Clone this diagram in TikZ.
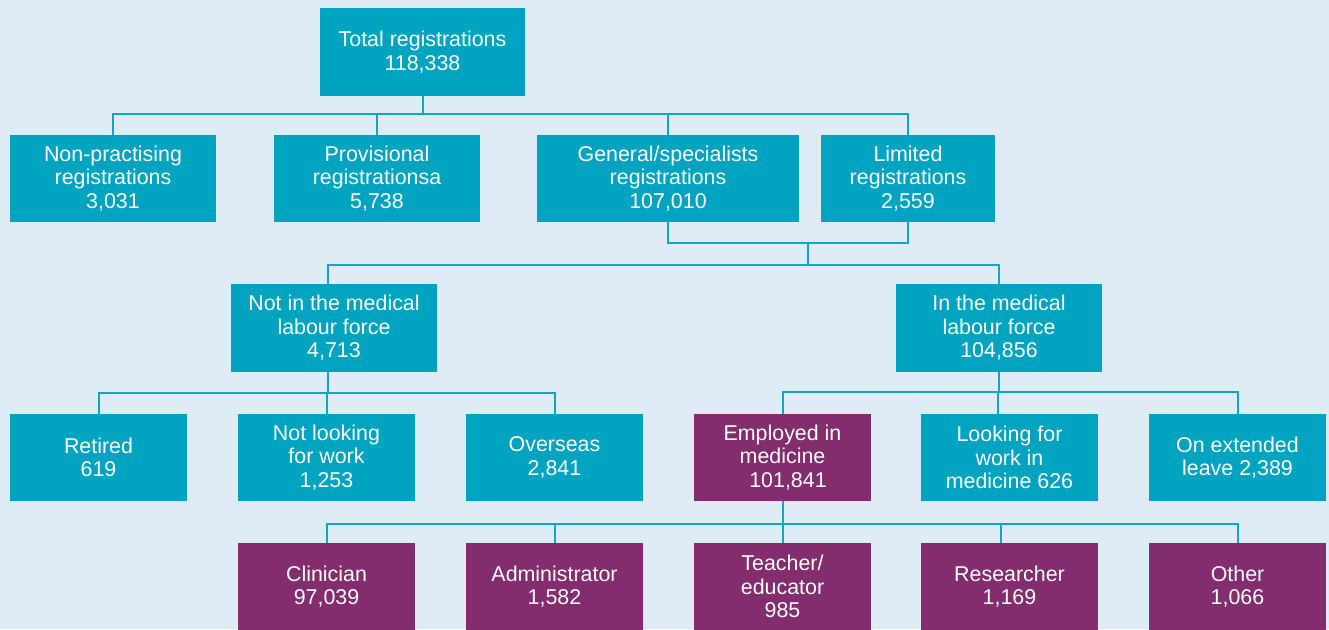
\documentclass[tikz,border=0pt]{standalone}
\usepackage{fontspec}
\setmainfont{Liberation Sans}
\definecolor{bgblue}{HTML}{DFEBF5}
\definecolor{tealbox}{HTML}{00A4C0}
\definecolor{tealline}{HTML}{12A6C2}
\definecolor{plumbox}{HTML}{832D6E}
\tikzset{
  box/.style={fill=tealbox, text=white, inner sep=0pt, align=center,
    font=\fontsize{21.4pt}{23.6pt}\selectfont},
  tealnode/.style={box},
  plumnode/.style={box, fill=plumbox},
  w206/.style={minimum width=206pt},
  w177/.style={minimum width=177pt},
  h87/.style={minimum height=87pt},
  link/.style={draw=tealline, line width=2pt},
}
\begin{document}
\begin{tikzpicture}[x=1pt, y=-1pt]
  \fill[bgblue] (0,0) rectangle (1329,629);
  \useasboundingbox (0,0) rectangle (1329,629);

  % top
  \node[tealnode, minimum width=205pt, minimum height=88pt] (total) at (422.5,52) {Total registrations\\118,338};

  % registration types
  \node[tealnode, w206, h87] (np)   at (113,178.5) {Non-practising\\registrations\\3,031};
  \node[tealnode, w206, h87] (prov) at (377,178.5) {Provisional\\registrationsa\\5,738};
  \node[tealnode, minimum width=262pt, h87] (gen) at (668,178.5) {General/specialists\\registrations\\107,010};
  \node[tealnode, minimum width=174pt, h87] (lim) at (908,178.5) {Limited\\registrations\\2,559};

  % labour force
  \node[tealnode, w206, minimum height=88pt] (notin) at (334,328) {Not in the medical\\labour force\\4,713};
  \node[tealnode, w206, minimum height=88pt] (inmed) at (999,328) {In the medical\\labour force\\104,856};

  % status
  \node[tealnode, w177, h87] (ret)     at (98.5,457.5)  {Retired\\619};
  \node[tealnode, w177, h87] (notlook) at (326.5,457.5) {Not looking\\for work\\1,253};
  \node[tealnode, w177, h87] (over)    at (554.5,457.5) {Overseas\\2,841};
  \node[plumnode, w177, h87] (emp)     at (782.5,457.5) {Employed in\\medicine\\\hspace*{11pt}101,841};
  \node[tealnode, w177, h87] (look)    at (1009.5,457.5) {Looking for\\work in\\medicine 626};
  \node[tealnode, w177, h87] (ext)     at (1237.5,457.5) {On extended\\leave 2,389};

  % roles
  \node[plumnode, w177, h87] (clin)  at (326.5,586.5) {Clinician\\97,039};
  \node[plumnode, w177, h87] (admin) at (554.5,586.5) {Administrator\\1,582};
  \node[plumnode, w177, h87] (teach) at (782.5,586.5) {Teacher/\\educator\\985};
  \node[plumnode, w177, h87] (res)   at (1009.5,586.5) {Researcher\\1,169};
  \node[plumnode, w177, h87] (other) at (1237.5,586.5) {Other\\1,066};

  % bus lines
  \coordinate (b1) at (422,114);
  \coordinate (j)  at (808,243);
  \coordinate (b2) at (808,265);
  \coordinate (b3) at (328,393);
  \coordinate (b4) at (998,392);
  \coordinate (b5) at (781,524);

  % total -> registration types
  \draw[link] (total.south) -- (total.south |- b1);
  \draw[link] (np.north) -- (np.north |- b1) -- (lim.north |- b1) -- (lim.north);
  \draw[link] (prov.north) -- (prov.north |- b1);
  \draw[link] (gen.north) -- (gen.north |- b1);

  % general + limited -> labour force
  \draw[link] (gen.south) -- (gen.south |- j) -- (lim.south |- j) -- (lim.south);
  \draw[link] (j) -- (b2);
  \draw[link] ([xshift=-6pt]notin.north) -- ([xshift=-6pt]notin.north |- b2)
              -- (inmed.north |- b2) -- (inmed.north);

  % not in labour force -> status
  \draw[link] ([xshift=-6pt]notin.south) -- (b3);
  \draw[link] (ret.north) -- (ret.north |- b3) -- (over.north |- b3) -- (over.north);
  \draw[link] (notlook.north) -- (notlook.north |- b3);

  % in labour force -> status
  \draw[link] (inmed.south) -- (inmed.south |- b4);
  \draw[link] (emp.north) -- (emp.north |- b4) -- (ext.north |- b4) -- (ext.north);
  \draw[link] ([xshift=-11.5pt]look.north) -- ([xshift=-11.5pt]look.north |- b4);

  % employed -> roles
  \draw[link] (emp.south) -- (emp.south |- b5);
  \draw[link] (clin.north) -- (clin.north |- b5) -- (other.north |- b5) -- (other.north);
  \draw[link] (admin.north) -- (admin.north |- b5);
  \draw[link] (teach.north) -- (teach.north |- b5);
  \draw[link] ([xshift=-8.5pt]res.north) -- ([xshift=-8.5pt]res.north |- b5);
\end{tikzpicture}
\end{document}
